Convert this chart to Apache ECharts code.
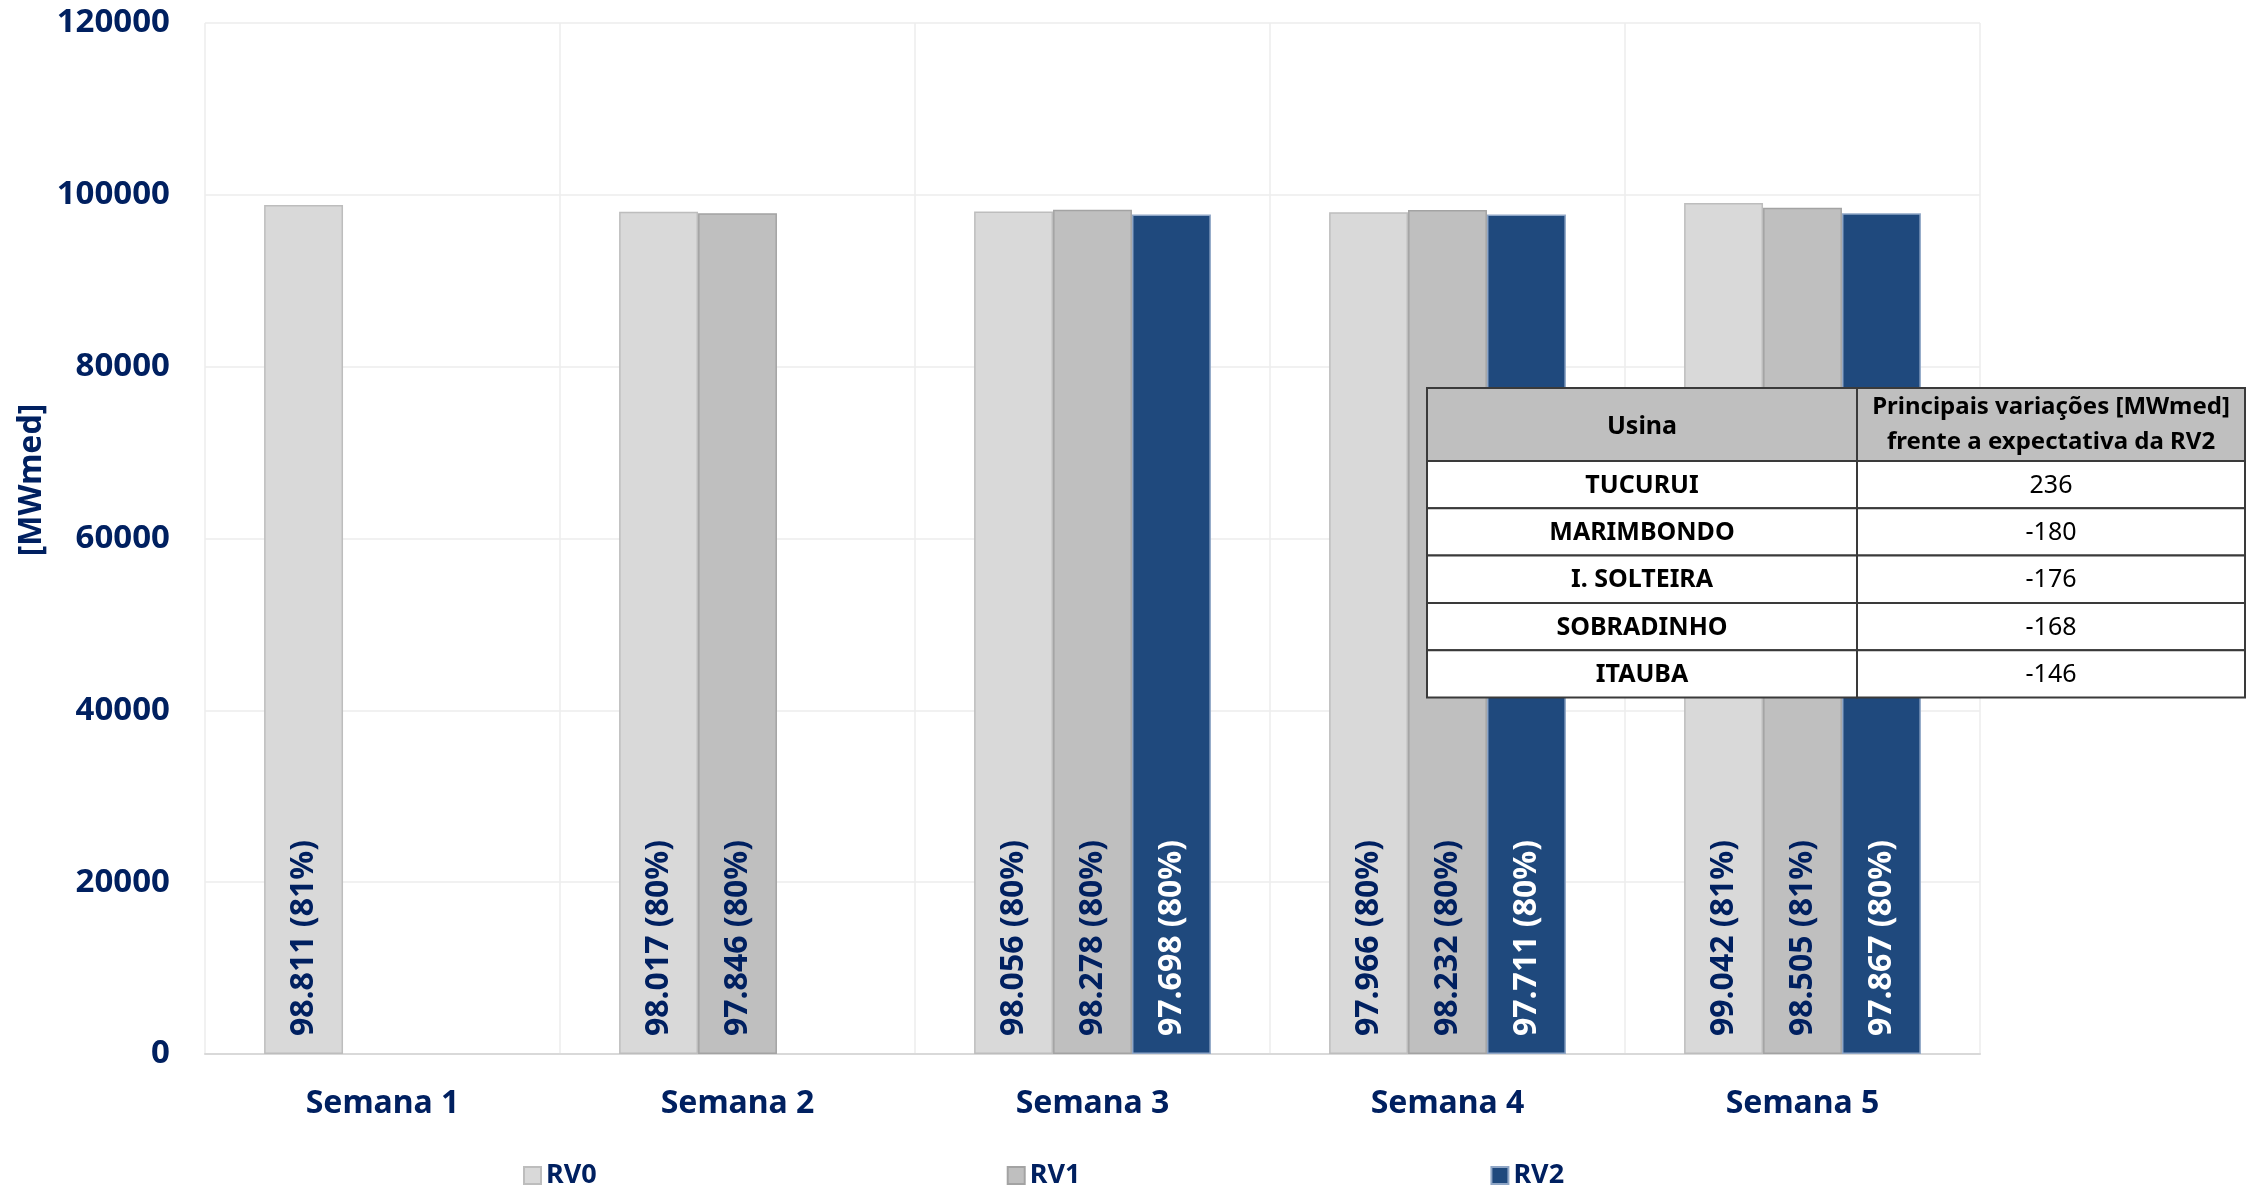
<!DOCTYPE html>
<html>
<head>
<meta charset="utf-8">
<script src="https://cdn.jsdelivr.net/npm/echarts@6/dist/echarts.min.js"></script>
<style>
html,body{margin:0;padding:0;background:#fff;}
#c{width:2264px;height:1188px;}
</style>
</head>
<body>
<div id="c"></div>
<script>
const categories = ['Semana 1', 'Semana 2', 'Semana 3', 'Semana 4', 'Semana 5'];
const seriesNames = ['RV0', 'RV1', 'RV2'];
const rv0 = [98811, 98017, 98056, 97966, 99042];
const rv1 = [null, 97846, 98278, 98232, 98505];
const rv2 = [null, null, 97698, 97711, 97867];
const rv0Pct = [81, 80, 80, 80, 81];
const rv1Pct = [null, 80, 80, 80, 81];
const rv2Pct = [null, null, 80, 80, 80];
const yMin = 0, yMax = 120000, yInterval = 20000;
const yAxisTitle = '[MWmed]';

const tableHeader = ['Usina', 'Principais variações [MWmed]\nfrente a expectativa da RV2'];
const usinas = ['TUCURUI', 'MARIMBONDO', 'I. SOLTEIRA', 'SOBRADINHO', 'ITAUBA'];
const variacoes = [236, -180, -176, -168, -146];

const NAVY = '#002060';
const FONT = '"Noto Sans", "Open Sans", sans-serif';

function fmt(v) {
  return String(v).replace(/\B(?=(\d{3})+(?!\d))/g, '.');
}

function mkSeries(name, data, pct, color, border, labelColor) {
  return {
    name: name,
    type: 'bar',
    data: data,
    barGap: '0%',
    barCategoryGap: '33.3%',
    itemStyle: { color: color, borderColor: border, borderWidth: 1.5 },
    label: {
      show: true,
      position: 'insideBottom',
      distance: 18,
      rotate: 90,
      align: 'left',
      verticalAlign: 'middle',
      color: labelColor,
      fontFamily: FONT,
      fontWeight: 'bold',
      fontSize: 32,
      formatter: function (p) { return fmt(p.value) + ' (' + pct[p.dataIndex] + '%)'; }
    }
  };
}

// Table graphic
const tX = 1427, tY = 388, c1W = 430, c2W = 388, hH = 73, rH = 47.3;
const tableEls = [];
const strokeStyle = { stroke: '#3a3a3a', lineWidth: 2 };
function add(el, zz) { el.z = zz; tableEls.push(el); }
add({ type: 'rect', shape: { x: tX, y: tY, width: c1W, height: hH }, style: Object.assign({ fill: '#bfbfbf' }, strokeStyle) }, 100);
add({ type: 'rect', shape: { x: tX + c1W, y: tY, width: c2W, height: hH }, style: Object.assign({ fill: '#bfbfbf' }, strokeStyle) }, 100);
add({ type: 'text', x: tX + c1W / 2, y: tY + hH / 2 + 2, style: { text: tableHeader[0], fill: '#000', font: 'bold 25px ' + FONT, textAlign: 'center', textVerticalAlign: 'middle' } }, 102);
add({ type: 'text', x: tX + c1W + c2W / 2, y: tY + hH / 2, style: { text: tableHeader[1], fill: '#000', font: 'bold 24px ' + FONT, textAlign: 'center', textVerticalAlign: 'middle', lineHeight: 35 } }, 102);
usinas.forEach(function (u, i) {
  const y = tY + hH + i * rH;
  add({ type: 'rect', shape: { x: tX, y: y, width: c1W, height: rH }, style: Object.assign({ fill: '#fff' }, strokeStyle) }, 100);
  add({ type: 'rect', shape: { x: tX + c1W, y: y, width: c2W, height: rH }, style: Object.assign({ fill: '#fff' }, strokeStyle) }, 100);
  add({ type: 'text', x: tX + c1W / 2, y: y + rH / 2 + 1, style: { text: u, fill: '#000', font: 'bold 25px ' + FONT, textAlign: 'center', textVerticalAlign: 'middle' } }, 102);
  add({ type: 'text', x: tX + c1W + c2W / 2, y: y + rH / 2 + 1, style: { text: String(variacoes[i]), fill: '#000', font: '25px ' + FONT, textAlign: 'center', textVerticalAlign: 'middle' } }, 102);
});

const chart = echarts.init(document.getElementById('c'), null, { renderer: 'canvas' });
chart.setOption({
  backgroundColor: '#fff',
  animation: false,
  grid: { left: 205, right: 284, top: 23, bottom: 134, containLabel: false },
  legend: {
    data: seriesNames,
    left: 518,
    top: 1157,
    itemWidth: 17,
    itemHeight: 17,
    itemGap: 410,
    icon: 'rect',
    textStyle: { color: NAVY, fontFamily: FONT, fontWeight: 'bold', fontSize: 27 }
  },
  xAxis: {
    type: 'category',
    data: categories,
    axisLine: { show: true, lineStyle: { color: '#d9d9d9', width: 2 } },
    axisTick: { show: false },
    splitLine: { show: true, lineStyle: { color: '#ededed', width: 1.5 } },
    axisLabel: { color: NAVY, fontFamily: FONT, fontWeight: 'bold', fontSize: 32, margin: 34 }
  },
  yAxis: {
    type: 'value',
    min: yMin,
    max: yMax,
    interval: yInterval,
    axisLine: { show: false },
    axisTick: { show: false },
    splitLine: { show: true, lineStyle: { color: '#ededed', width: 1.5 } },
    axisLabel: { color: NAVY, fontFamily: FONT, fontWeight: 'bold', fontSize: 33, margin: 35, formatter: function (v) { return String(v); } }
  },
  series: [
    mkSeries('RV0', rv0, rv0Pct, '#d9d9d9', '#bdbdbd', NAVY),
    mkSeries('RV1', rv1, rv1Pct, '#bfbfbf', '#a3a3a3', NAVY),
    mkSeries('RV2', rv2, rv2Pct, '#1f497d', '#8fa6c6', '#ffffff')
  ],
  graphic: [
    { type: 'text', x: 32, y: 480, rotation: Math.PI / 2, style: { text: yAxisTitle, fill: NAVY, font: 'bold 32px ' + FONT, textAlign: 'center', textVerticalAlign: 'middle' } }
  ].concat(tableEls)
});
</script>
</body>
</html>
